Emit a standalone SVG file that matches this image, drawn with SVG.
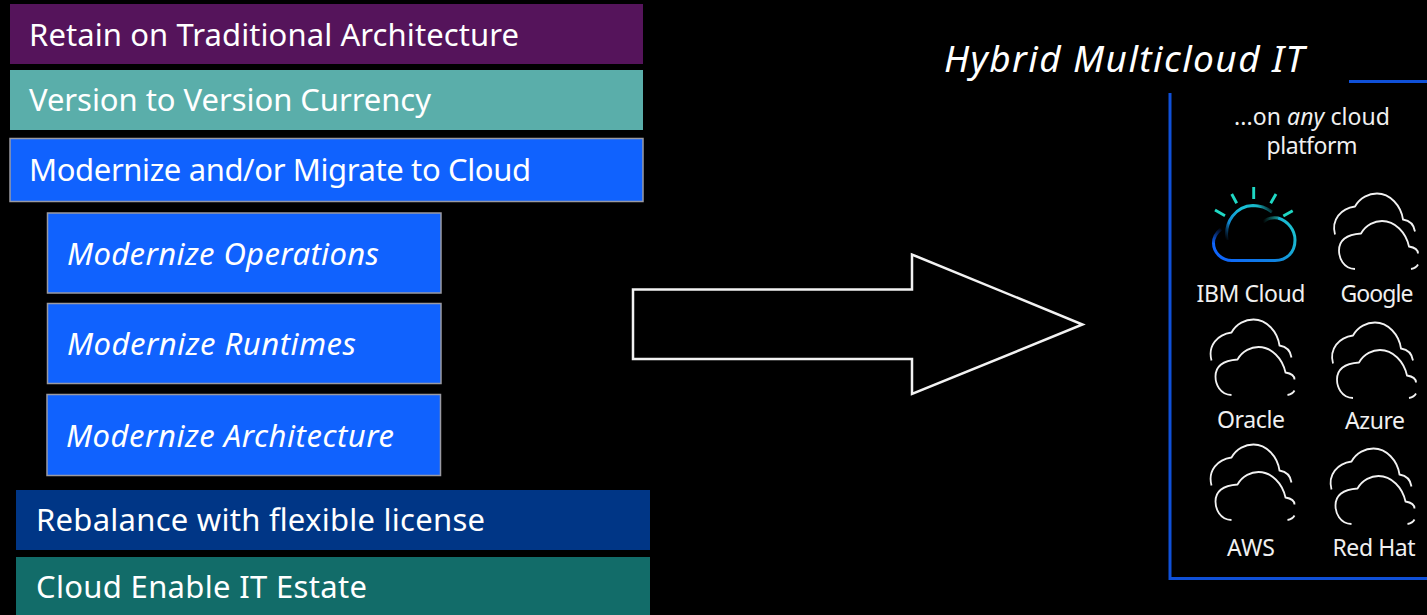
<svg xmlns="http://www.w3.org/2000/svg" xmlns:xlink="http://www.w3.org/1999/xlink" width="1427" height="615" viewBox="0 0 1427 615">
<style>
text{font-family:"Noto Sans","Open Sans","Liberation Sans",sans-serif;fill:#fff}
.b{font-size:31px}
.i{font-size:31px;font-style:italic}
.s{font-size:23px;fill:#f0f0f0;text-anchor:middle}
.c{fill:none;stroke:#f2f2f2;stroke-width:1.8}
.o{stroke:#9a9aa2;stroke-width:1.5}
.f{fill:none;stroke:#0f50d8;stroke-width:3}
.r{stroke:#1fd8c4;stroke-width:2.900;fill:none}
.k{fill:none;stroke-width:3}
</style>
<defs>
<g id="cloud">
<path class="c" d="M2,41C-2,26 8,15 22,13C27,4 36,0 44,0C57,0 68,12 70,26C76,27 81,31 82,38"/>
<path class="c" d="M22,75.500C10,75 6,64 6,57C6,46 15,41 28,40C33,31 42,27.500 49,27.500C62,27.500 73,39 76,53C82,54 85,57 85,60"/>
<path class="c" d="M78,75.500C81,75 84,73 85,71"/>
</g>
<linearGradient id="g1" gradientUnits="userSpaceOnUse" x1="1226" y1="240" x2="1272" y2="207">
<stop offset="0" stop-color="#0a4a90" stop-opacity="0"/><stop offset=".22" stop-color="#1088d0"/><stop offset=".55" stop-color="#18c0d8"/><stop offset=".8" stop-color="#18b8c8"/><stop offset="1" stop-color="#18b8c8" stop-opacity="0"/>
</linearGradient>
<linearGradient id="g2" gradientUnits="userSpaceOnUse" x1="1215" y1="260" x2="1295" y2="215">
<stop offset="0" stop-color="#0f62fe"/><stop offset=".55" stop-color="#0f80e0"/><stop offset="1" stop-color="#1fd0cc"/>
</linearGradient>
<linearGradient id="g3" gradientUnits="userSpaceOnUse" x1="1263" y1="222" x2="1284" y2="220">
<stop offset="0" stop-color="#1fb8b8" stop-opacity="0"/><stop offset="1" stop-color="#1fd0cc"/>
</linearGradient>
<linearGradient id="g4" gradientUnits="userSpaceOnUse" x1="1222" y1="228" x2="1213.500" y2="244">
<stop offset="0" stop-color="#0f62fe" stop-opacity="0"/><stop offset="1" stop-color="#0f62fe"/>
</linearGradient>
</defs>
<rect width="1427" height="615" fill="#000"/>

<g id="retain"><rect x="10" y="4" width="633" height="60" fill="#55145b"/><text class="b" x="29" y="46" textLength="490">Retain on Traditional Architecture</text></g>
<g id="version"><rect x="10" y="70" width="633" height="60" fill="#5aaeaa"/><text class="b" x="29" y="111" textLength="402">Version to Version Currency</text></g>
<g id="modernize"><rect class="o" x="10" y="138.500" width="633" height="63" fill="#1062fe"/><text class="b" x="29" y="181" textLength="502">Modernize and/or Migrate to Cloud</text></g>
<g id="operations"><rect class="o" x="47.500" y="213" width="393.500" height="80" fill="#1062fe"/><text class="i" x="67" y="265" textLength="312">Modernize Operations</text></g>
<g id="runtimes"><rect class="o" x="47.500" y="303.500" width="393.500" height="80" fill="#1062fe"/><text class="i" x="67" y="355" textLength="289">Modernize Runtimes</text></g>
<g id="architecture"><rect class="o" x="47" y="394.500" width="393.500" height="81" fill="#1062fe"/><text class="i" x="66" y="447" textLength="328">Modernize Architecture</text></g>
<g id="rebalance"><rect x="16" y="490" width="634" height="60" fill="#003686"/><text class="b" x="36" y="531" textLength="449">Rebalance with flexible license</text></g>
<g id="enable"><rect x="16" y="557" width="634" height="58" fill="#126c69"/><text class="b" x="36" y="598" textLength="331">Cloud Enable IT Estate</text></g>

<g id="connectors"><polygon points="633,289.500 912,289.500 912,254.500 1082.500,324.500 912,394 912,359 633,359" fill="none" stroke="#f2f2f2" stroke-width="2.500"/></g>

<g id="multicloud">
<text x="944" y="72" font-size="37" font-style="italic" textLength="360">Hybrid Multicloud IT</text>
<path class="f" d="M1349,81.500H1427"/>
<path class="f" d="M1170,93V578.500H1427"/>
<text class="s" x="1312" y="125" textLength="156">...on <tspan font-style="italic">any</tspan> cloud</text>
<text class="s" x="1312" y="154" textLength="91">platform</text>
</g>

<g id="ibm">
<path class="r" d="M1253.700,187V199M1231.700,194L1236.700,203.300M1276,194L1270.700,203.300M1215,210L1225,215.700M1292.700,210.700L1283.300,216"/>
<path class="k" d="M1227,240C1224,222 1236,206 1253,205.500C1260,205.500 1267,208 1272,212" stroke="url(#g1)"/>
<path class="k" d="M1263,222C1268,218 1273,217 1278,218" stroke="url(#g3)"/>
<path class="k" d="M1278,218C1288,221 1295,230 1295,240C1295,252 1287,260.500 1275,260.500H1232C1221,260.500 1213.500,252 1213.500,243" stroke="url(#g2)"/>
<path class="k" d="M1213.500,243C1213.500,238 1216,233 1221,229" stroke="url(#g4)"/>
<text class="s" x="1251" y="302" textLength="109">IBM Cloud</text>
</g>
<g id="google"><use xlink:href="#cloud" href="#cloud" x="1333" y="193.500"/><text class="s" x="1377" y="302" textLength="73">Google</text></g>
<g id="oracle"><use xlink:href="#cloud" href="#cloud" x="1209.500" y="319.500"/><text class="s" x="1251" y="428" textLength="68">Oracle</text></g>
<g id="azure"><use xlink:href="#cloud" href="#cloud" x="1331" y="322.500"/><text class="s" x="1375" y="429" textLength="60">Azure</text></g>
<g id="aws"><use xlink:href="#cloud" href="#cloud" x="1209.500" y="444.500"/><text class="s" x="1251" y="556" textLength="48">AWS</text></g>
<g id="redhat"><use xlink:href="#cloud" href="#cloud" x="1329.500" y="448.500"/><text class="s" x="1374" y="556" textLength="83">Red Hat</text></g>
</svg>
